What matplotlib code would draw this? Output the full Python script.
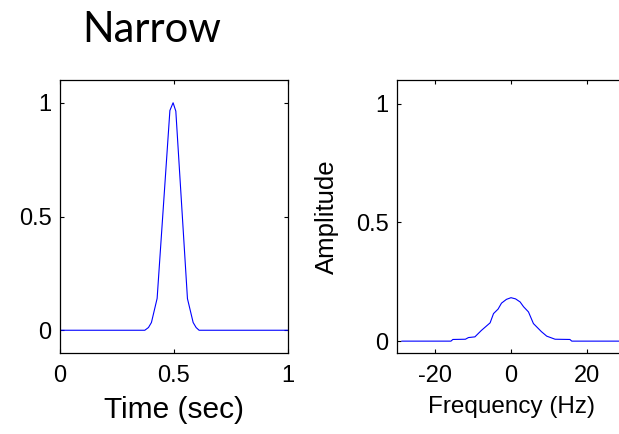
import matplotlib
matplotlib.use('Agg')
import matplotlib.pyplot as plt

# Pulso no tempo
tempo = [0.0, 0.372, 0.388, 0.401, 0.426, 0.482, 0.496, 0.508, 0.559, 0.584, 0.597, 0.610, 1.0]
pulso = [0.0, 0.0, 0.012, 0.034, 0.14, 0.966, 1.0, 0.963, 0.139, 0.034, 0.012, 0.0, 0.0]

# Espectro de amplitude
freq = [-28.7, -15.8, -15.3, -12.0, -11.2, -9.5, -7.8, -5.5, -4.6, -3.4, -2.5, -1.2, 0.0,
        1.2, 2.4, 3.3, 4.6, 5.9, 8.0, 9.4, 11.6, 15.5, 16.0, 30.0]
amp = [0.0, 0.0, 0.007, 0.008, 0.015, 0.018, 0.045, 0.077, 0.116, 0.135, 0.16, 0.176, 0.183,
       0.178, 0.165, 0.145, 0.123, 0.074, 0.040, 0.021, 0.008, 0.007, 0.0, 0.0]

plt.rcParams['font.family'] = ['Liberation Sans', 'DejaVu Sans']

W, H = 619, 434
fig = plt.figure(figsize=(W / 100, H / 100), dpi=100)

def estilo(ax):
    ax.tick_params(direction='in', length=3, width=0.8, top=True, right=True,
                   labelsize=17, pad=9)
    for s in ax.spines.values():
        s.set_linewidth(0.9)

# Gráfico do tempo
ax1 = fig.add_axes([60 / W, (H - 353) / H, 228 / W, 273 / H])
ax1.plot(tempo, pulso, color='#0000ff', lw=0.8)
ax1.set_xlim(0, 1)
ax1.set_ylim(-0.1, 1.1)
ax1.set_xticks([0, 0.5, 1], ['0', '0.5', '1'])
ax1.set_yticks([0, 0.5, 1], ['0', '0.5', '1'])
estilo(ax1)
ax1.tick_params(axis='y', pad=6)
ax1.set_xlabel('Time (sec)', fontsize=21.5, labelpad=6)

# Gráfico da frequência
ax2 = fig.add_axes([397 / W, (H - 353) / H, 228 / W, 273 / H])
ax2.plot(freq, amp, color='#0000ff', lw=0.8)
ax2.set_xlim(-30, 30)
ax2.set_ylim(-0.05, 1.1)
ax2.set_xticks([-20, 0, 20], ['-20', '0', '20'])
ax2.set_yticks([0, 0.5, 1], ['0', '0.5', '1'])
estilo(ax2)
ax2.tick_params(axis='y', pad=6)
ax2.set_xlabel('Frequency (Hz)', fontsize=17.5, labelpad=6)
ax2.set_ylabel('Amplitude', fontsize=18.5, labelpad=12)

fig.text(82 / W, 1 - 42 / H, 'Narrow', fontsize=30, family=['Lato', 'DejaVu Sans'],
         ha='left', va='baseline')

fig.savefig('out.png', dpi=100)
